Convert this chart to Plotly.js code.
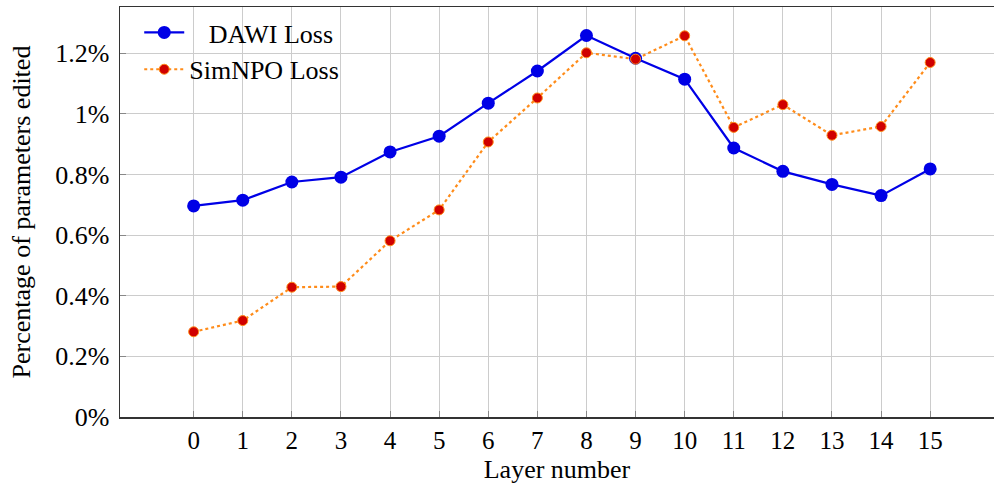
<!DOCTYPE html>
<html>
<head>
<meta charset="utf-8">
<script src="https://cdn.plot.ly/plotly-3.0.1.min.js"></script>
<style>html,body{margin:0;padding:0;background:#fff;}#chart{width:994px;height:484px;}</style>
</head>
<body>
<div id="chart"></div>
<script>
const layers = [0,1,2,3,4,5,6,7,8,9,10,11,12,13,14,15];
const dawiLoss = [0.696,0.715,0.775,0.791,0.874,0.926,1.035,1.141,1.258,1.183,1.114,0.887,0.810,0.767,0.730,0.818];
const simnpoLoss = [0.281,0.318,0.428,0.430,0.581,0.683,0.907,1.052,1.201,1.180,1.257,0.955,1.030,0.929,0.958,1.169];
const yTickVals = [0,0.2,0.4,0.6,0.8,1.0,1.2];
const yTickText = ['0%','0.2%','0.4%','0.6%','0.8%','1%','1.2%'];
const seriesNames = ['\u00a0\u00a0\u00a0DAWI Loss','SimNPO Loss'];

const font = 'Liberation Serif, Times New Roman, serif';
const traces = [
  {x: layers, y: dawiLoss, name: seriesNames[0], mode: 'lines+markers', type: 'scatter',
   line: {color: '#0000e6', width: 2.2},
   marker: {color: '#0000e6', size: 13, symbol: 'circle'}},
  {x: layers, y: simnpoLoss, name: seriesNames[1], mode: 'lines+markers', type: 'scatter',
   line: {color: '#ff8c1a', width: 2.2, dash: 'dot'},
   marker: {color: '#d00000', size: 10, symbol: 'circle', line: {color: '#ff8c1a', width: 1}}}
];
const layout = {
  width: 994, height: 484,
  margin: {l: 120, r: 0, t: 7, b: 67},
  paper_bgcolor: '#fff', plot_bgcolor: '#fff',
  font: {family: font, size: 26, color: '#000'},
  showlegend: true,
  legend: {x: 0.022, y: 0.995, xanchor: 'left', yanchor: 'top', bgcolor: 'rgba(255,255,255,0)',
           borderwidth: 0, font: {family: font, size: 26}, tracegroupgap: 0, itemwidth: 40},
  xaxis: {
    range: [-1.5, 16.3], tickmode: 'array', tickvals: layers, ticktext: layers.map(String),
    showgrid: true, gridcolor: '#cccccc', gridwidth: 1,
    ticks: 'inside', ticklen: 6, tickcolor: '#888', tickwidth: 1,
    showline: true, linecolor: '#333', linewidth: 1.5, mirror: true,
    zeroline: false, ticklabelstandoff: 0,
    title: {text: 'Layer number', font: {family: font, size: 26}, standoff: 8},
    tickfont: {family: font, size: 25}
  },
  yaxis: {
    range: [0, 1.352], tickmode: 'array', tickvals: yTickVals, ticktext: yTickText,
    showgrid: true, gridcolor: '#cccccc', gridwidth: 1,
    ticks: 'inside', ticklen: 6, tickcolor: '#888', tickwidth: 1,
    showline: true, linecolor: '#333', linewidth: 1.5, mirror: true,
    zeroline: false, ticklabelstandoff: 4,
    title: {text: 'Percentage of parameters edited', font: {family: font, size: 26}, standoff: 17},
    tickfont: {family: font, size: 26}
  }
};
Plotly.newPlot('chart', traces, layout, {displayModeBar: false, staticPlot: true});
</script>
</body>
</html>
